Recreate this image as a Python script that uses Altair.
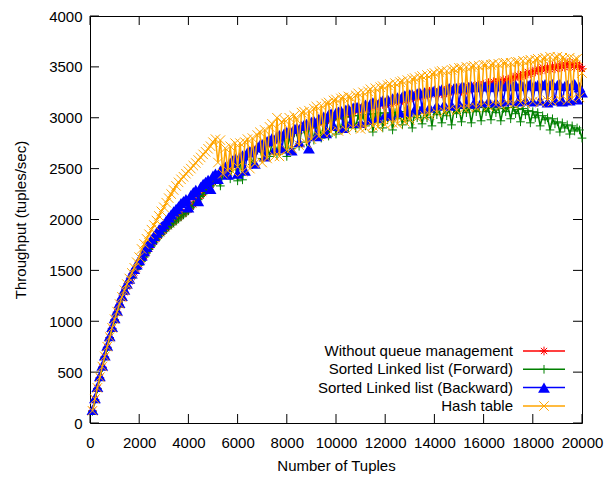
import altair as alt
import pandas as pd

# x positions: number of tuples, every 100 from 100 to 20000
TUPLES = list(range(100, 20001, 100))

WITHOUT_QM = [
    120, 230, 340, 445, 550, 650, 745, 840, 930, 1015,
    1090, 1160, 1225, 1285, 1340, 1390, 1435, 1480, 1520, 1560,
    1600, 1640, 1680, 1715, 1750, 1780, 1810, 1840, 1865, 1890,
    1915, 1935, 1955, 1975, 1995, 2015, 2035, 2055, 2075, 2095,
    2125, 2150, 2180, 2205, 2235, 2260, 2290, 2315, 2340, 2365,
    2390, 2420, 2430, 2460, 2470, 2505, 2510, 2540, 2550, 2575,
    2585, 2610, 2615, 2640, 2645, 2670, 2675, 2695, 2700, 2720,
    2725, 2750, 2750, 2770, 2770, 2795, 2795, 2815, 2815, 2835,
    2835, 2860, 2855, 2880, 2875, 2900, 2890, 2920, 2910, 2930,
    2930, 2955, 2945, 2970, 2960, 2985, 2980, 3005, 2995, 3020,
    3010, 3035, 3020, 3050, 3040, 3065, 3050, 3080, 3070, 3090,
    3080, 3105, 3095, 3120, 3105, 3135, 3120, 3145, 3130, 3155,
    3140, 3165, 3150, 3180, 3165, 3190, 3170, 3200, 3180, 3210,
    3195, 3220, 3200, 3235, 3215, 3245, 3225, 3260, 3240, 3265,
    3230, 3255, 3235, 3270, 3245, 3280, 3260, 3290, 3270, 3300,
    3260, 3290, 3270, 3305, 3280, 3310, 3290, 3325, 3300, 3330,
    3310, 3345, 3320, 3355, 3330, 3360, 3340, 3375, 3350, 3380,
    3370, 3400, 3390, 3420, 3400, 3430, 3420, 3450, 3430, 3460,
    3450, 3485, 3460, 3495, 3470, 3500, 3475, 3510, 3480, 3520,
    3490, 3530, 3495, 3540, 3500, 3535, 3495, 3530, 3505, 3480,
]

SORTED_FORWARD = [
    115, 225, 335, 440, 545, 645, 740, 835, 925, 1010,
    1080, 1150, 1215, 1275, 1330, 1380, 1425, 1470, 1510, 1550,
    1590, 1630, 1670, 1705, 1740, 1770, 1800, 1830, 1855, 1880,
    1905, 1925, 1945, 1965, 1985, 2005, 2025, 2045, 2065, 2085,
    2115, 2140, 2170, 2195, 2225, 2250, 2280, 2305, 2330, 2355,
    2380, 2400, 2330, 2445, 2465, 2485, 2400, 2525, 2545, 2380,
    2590, 2390, 2620, 2630, 2645, 2540, 2670, 2685, 2700, 2600,
    2720, 2735, 2620, 2760, 2770, 2640, 2790, 2800, 2810, 2620,
    2830, 2700, 2850, 2860, 2720, 2880, 2890, 2760, 2900, 2910,
    2780, 2930, 2940, 2800, 2950, 2960, 2820, 2970, 2980, 2840,
    2990, 2880, 3000, 3010, 2900, 3010, 3020, 2900, 3020, 2950,
    3030, 2920, 3030, 3040, 2860, 3040, 2950, 3050, 2900, 3040,
    2980, 3050, 2880, 3050, 2990, 3060, 2930, 3060, 2970, 3060,
    2900, 3060, 3000, 3070, 2940, 3070, 3000, 3080, 2920, 3070,
    3030, 3080, 2950, 3080, 3020, 3090, 2930, 3080, 3040, 3090,
    2960, 3090, 3050, 3100, 2950, 3090, 3060, 3100, 2970, 3100,
    3060, 3090, 2980, 3100, 3050, 3110, 2970, 3090, 3060, 3100,
    2990, 3100, 3040, 3080, 2960, 3090, 3030, 3070, 2950, 3060,
    3000, 3050, 2920, 3020, 2980, 3000, 2880, 2990, 2940, 2960,
    2860, 2950, 2900, 2930, 2840, 2920, 2870, 2900, 2880, 2800,
]

SORTED_BACKWARD = [
    130, 245, 355, 460, 565, 665, 760, 855, 945, 1030,
    1105, 1180, 1250, 1310, 1370, 1420, 1470, 1515, 1560, 1600,
    1645, 1690, 1730, 1770, 1805, 1840, 1870, 1900, 1930, 1955,
    1990, 2020, 2050, 2080, 2105, 2130, 2160, 2180, 2200, 2120,
    2240, 2270, 2290, 2180, 2320, 2350, 2370, 2390, 2300, 2430,
    2450, 2400, 2480, 2500, 2520, 2440, 2560, 2580, 2600, 2450,
    2620, 2630, 2480, 2660, 2670, 2690, 2550, 2710, 2730, 2740,
    2620, 2770, 2780, 2800, 2690, 2820, 2830, 2700, 2850, 2860,
    2870, 2680, 2890, 2900, 2760, 2920, 2930, 2940, 2700, 2960,
    2970, 2820, 2990, 3000, 3010, 2850, 3030, 3040, 2920, 3050,
    3060, 3070, 2900, 3080, 3090, 2950, 3100, 3110, 3110, 2950,
    3120, 3130, 2980, 3140, 3150, 3150, 3000, 3160, 3170, 3030,
    3180, 3020, 3190, 3200, 3200, 3050, 3210, 3220, 3060, 3230,
    3230, 3080, 3240, 3250, 3090, 3250, 3260, 3100, 3260, 3270,
    3120, 3270, 3280, 3130, 3280, 3290, 3120, 3290, 3290, 3140,
    3300, 3300, 3150, 3300, 3310, 3140, 3300, 3310, 3150, 3310,
    3310, 3160, 3300, 3310, 3150, 3310, 3320, 3160, 3310, 3320,
    3170, 3310, 3320, 3160, 3320, 3310, 3170, 3320, 3330, 3160,
    3310, 3320, 3170, 3320, 3330, 3150, 3320, 3330, 3170, 3320,
    3330, 3160, 3310, 3320, 3170, 3320, 3330, 3180, 3300, 3250,
]

HASH_TABLE = [
    120, 235, 345, 450, 555, 655, 750, 845, 935, 1020,
    1095, 1170, 1240, 1305, 1365, 1420, 1475, 1525, 1580, 1630,
    1710, 1760, 1810, 1855, 1900, 1945, 1990, 2035, 2080, 2120,
    2165, 2210, 2250, 2290, 2330, 2365, 2395, 2420, 2450, 2475,
    2500, 2530, 2555, 2585, 2610, 2640, 2665, 2695, 2720, 2760,
    2790, 2560, 2780, 2450, 2700, 2480, 2720, 2470, 2750, 2520,
    2750, 2470, 2760, 2790, 2500, 2800, 2550, 2830, 2860, 2560,
    2880, 2600, 2910, 2940, 2620, 3000, 2620, 2960, 2980, 2680,
    3000, 2700, 3020, 2980, 2730, 3050, 3060, 2750, 3070, 2790,
    3090, 3110, 2820, 3120, 2850, 3140, 3150, 2860, 3170, 3180,
    2870, 3190, 3200, 2880, 3210, 3200, 2900, 3220, 3240, 2890,
    3250, 2900, 3260, 3280, 2920, 3290, 2910, 3300, 3310, 2930,
    3320, 3330, 2950, 3340, 2940, 3350, 3360, 2960, 3370, 2980,
    3380, 3390, 3000, 3400, 3410, 3020, 3420, 3030, 3430, 3440,
    3050, 3450, 3460, 3060, 3460, 3080, 3470, 3480, 3070, 3490,
    3490, 3090, 3500, 3100, 3500, 3510, 3100, 3510, 3120, 3520,
    3520, 3110, 3520, 3530, 3130, 3530, 3120, 3540, 3540, 3140,
    3540, 3130, 3550, 3550, 3150, 3560, 3140, 3560, 3570, 3160,
    3570, 3580, 3150, 3580, 3590, 3170, 3600, 3160, 3590, 3600,
    3180, 3590, 3580, 3170, 3590, 3190, 3570, 3580, 3200, 3440,
]

SERIES_NAMES = [
    "Without queue management",
    "Sorted Linked list (Forward)",
    "Sorted Linked list (Backward)",
    "Hash table",
]
SERIES_VALUES = [WITHOUT_QM, SORTED_FORWARD, SORTED_BACKWARD, HASH_TABLE]
COLORS = ["#ff0000", "#008000", "#0000ff", "#ffa500"]

X_TICKS = [0, 2000, 4000, 6000, 8000, 10000, 12000, 14000, 16000, 18000, 20000]
Y_TICKS = [0, 500, 1000, 1500, 2000, 2500, 3000, 3500, 4000]

# marker shapes (gnuplot-like)
ASTERISK = "M-1,0L1,0M0,-1L0,1M-0.72,-0.72L0.72,0.72M-0.72,0.72L0.72,-0.72"
PLUS = "M-1,0L1,0M0,-1L0,1"
XMARK = "M-1,-1L1,1M-1,1L1,-1"
SHAPES = [ASTERISK, PLUS, "triangle-up", XMARK]
FILLED = [False, False, True, False]
SIZES = [75, 75, 140, 90]

W, H = 492, 407
FONT = "Liberation Sans"
FS = 15

xscale = alt.Scale(domain=[0, 20000], nice=False, zero=False)
yscale = alt.Scale(domain=[0, 4000], nice=False)

xaxis = alt.Axis(values=X_TICKS, title="Number of Tuples", ticks=False, domain=False,
                 grid=False, labelFlush=False, labelOverlap=False, labelPadding=12,
                 titlePadding=8, format="d")
yaxis = alt.Axis(values=Y_TICKS, title="Throughput (tuples/sec)", ticks=False, domain=False,
                 grid=False, labelPadding=8, titlePadding=20, format="d")

layers = []

# inward tick marks on all four sides
xt = pd.DataFrame({"t": X_TICKS})
yt = pd.DataFrame({"t": Y_TICKS})
layers.append(alt.Chart(xt).mark_rule(color="black", strokeWidth=1).encode(
    x=alt.X("t:Q", scale=xscale, axis=xaxis), y=alt.value(H), y2=alt.value(H - 9)))
layers.append(alt.Chart(xt).mark_rule(color="black", strokeWidth=1).encode(
    x=alt.X("t:Q", scale=xscale), y=alt.value(0), y2=alt.value(9)))
layers.append(alt.Chart(yt).mark_rule(color="black", strokeWidth=1).encode(
    y=alt.Y("t:Q", scale=yscale, axis=yaxis), x=alt.value(0), x2=alt.value(9)))
layers.append(alt.Chart(yt).mark_rule(color="black", strokeWidth=1).encode(
    y=alt.Y("t:Q", scale=yscale), x=alt.value(W), x2=alt.value(W - 9)))

for name, vals, col, shp, fil, sz in zip(SERIES_NAMES, SERIES_VALUES, COLORS, SHAPES, FILLED, SIZES):
    df = pd.DataFrame({"x": TUPLES, "y": vals})
    base = alt.Chart(df).encode(x=alt.X("x:Q", scale=xscale), y=alt.Y("y:Q", scale=yscale))
    layers.append(base.mark_line(color=col, strokeWidth=1.5))
    if fil:
        layers.append(base.mark_point(shape=shp, filled=True, color=col, size=sz, opacity=1))
    else:
        layers.append(base.mark_point(shape=shp, filled=False, color=col, size=sz,
                                      strokeWidth=1, opacity=1))

# key (gnuplot style: text right-aligned, then line sample with marker)
KEY_Y = [335, 353.3, 371.6, 390]
for name, col, shp, fil, sz, ky in zip(SERIES_NAMES, COLORS, SHAPES, FILLED, SIZES, KEY_Y):
    kd = pd.DataFrame({"label": [name]})
    kb = alt.Chart(kd)
    layers.append(kb.mark_text(align="right", baseline="middle", font=FONT, fontSize=FS,
                               color="black").encode(
        text="label:N", x=alt.value(423), y=alt.value(ky)))
    layers.append(kb.mark_rule(color=col, strokeWidth=1.5).encode(
        x=alt.value(433), x2=alt.value(475), y=alt.value(ky)))
    if fil:
        layers.append(kb.mark_point(shape=shp, filled=True, color=col, size=sz, opacity=1).encode(
            x=alt.value(454), y=alt.value(ky)))
    else:
        layers.append(kb.mark_point(shape=shp, filled=False, color=col, size=sz, strokeWidth=1,
                                    opacity=1).encode(x=alt.value(454), y=alt.value(ky)))

chart = alt.layer(*layers).properties(
    width=W, height=H,
    autosize=alt.AutoSizeParams(type="none"),
    padding={"left": 82, "top": 8, "right": 25, "bottom": 56},
).configure_view(stroke="black", strokeWidth=1).configure_axis(
    labelFont=FONT, labelFontSize=FS, labelColor="black",
    titleFont=FONT, titleFontSize=FS, titleFontWeight="normal", titleColor="black",
)

chart.save("out.html", embed_options={"renderer": "svg", "actions": False})
